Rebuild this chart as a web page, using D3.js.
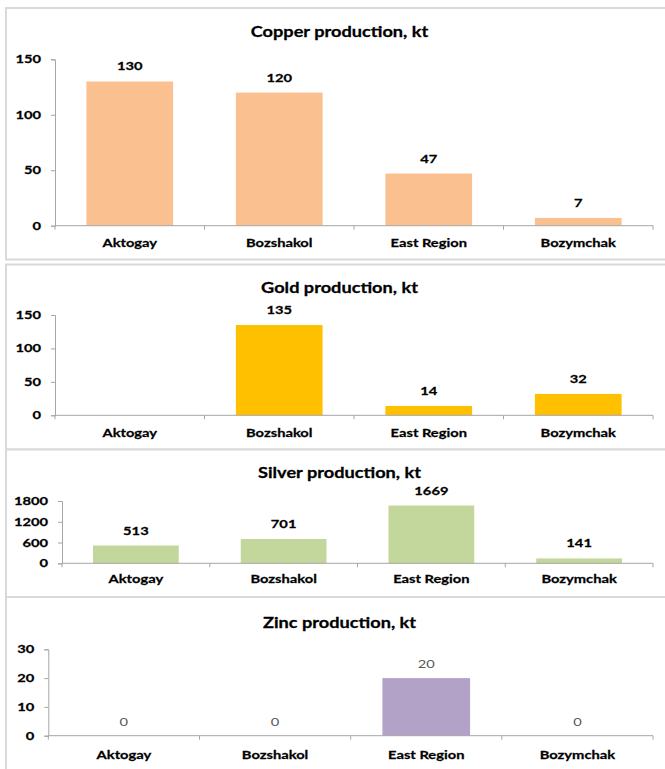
<!DOCTYPE html>
<html>
<head>
<meta charset="utf-8">
<script src="https://cdn.jsdelivr.net/npm/d3@7"></script>
<style>
  html, body { margin: 0; padding: 0; background: #ffffff; }
  svg { display: block; }
</style>
</head>
<body>
<svg id="chart" width="665" height="769"></svg>
<script>
// ---- data ----
const categories = ["Aktogay", "Bozshakol", "East Region", "Bozymchak"];
const copperValues = [130, 120, 47, 7];
const goldValues = [null, 135, 14, 32];
const silverValues = [513, 701, 1669, 141];
const zincValues = [0, 0, 20, 0];
const copperTicks = [0, 50, 100, 150];
const goldTicks = [0, 50, 100, 150];
const silverTicks = [0, 600, 1200, 1800];
const zincTicks = [0, 10, 20, 30];
const titles = ["Copper production, kt", "Gold production, kt", "Silver production, kt", "Zinc production, kt"];

// ---- layout ----
const SX = 1.28;            // horizontal stretch of the reference text
const FONT = "Lato, 'Noto Sans', sans-serif";
const panels = [
  { title: titles[0], values: copperValues, ticks: copperTicks, color: "#FAC090",
    box: [8, 259.5], y0: 225.7, yTop: 59.3, axisX: 55, titleY: 36.5, catDy: 21, boldLabels: true },
  { title: titles[1], values: goldValues, ticks: goldTicks, color: "#FFC000",
    box: [264.5, 449.5], y0: 415.3, yTop: 315, axisX: 55, titleY: 292.7, catDy: 21.4, boldLabels: true },
  { title: titles[2], values: silverValues, ticks: silverTicks, color: "#C3D69B",
    box: [449.5, 597], y0: 563.3, yTop: 501, axisX: 62, titleY: 478.3, catDy: 19.4, boldLabels: true },
  { title: titles[3], values: zincValues, ticks: zincTicks, color: "#B3A2C7",
    box: [597, 780], y0: 735.7, yTop: 649.3, axisX: 48.3, titleY: 628.3, catDy: 23.6, boldLabels: false }
];
const RIGHT = 653;
const AXIS_COLOR = "#a6a6a6";

const svg = d3.select("#chart");

function stretchedText(g, x, y, str, opts) {
  const bold = (opts.weight || "bold") === "bold";
  const fill = opts.fill || "#000";
  return g.append("text")
    .attr("transform", `translate(${x},${y}) scale(${SX},1)`)
    .attr("text-anchor", opts.anchor || "middle")
    .attr("font-family", FONT)
    .attr("font-size", opts.size || 11.5)
    .attr("font-weight", opts.weight || "bold")
    .attr("fill", fill)
    .attr("stroke", bold ? fill : "none")
    .attr("stroke-width", bold ? 0.25 : 0)
    .text(str);
}

panels.forEach(p => {
  const g = svg.append("g");
  // panel border
  g.append("rect")
    .attr("x", 6).attr("y", p.box[0])
    .attr("width", 680).attr("height", p.box[1] - p.box[0])
    .attr("fill", "#fff").attr("stroke", "#d9d9d9").attr("stroke-width", 2);

  const yMax = p.ticks[p.ticks.length - 1];
  const y = d3.scaleLinear().domain([0, yMax]).range([p.y0, p.yTop]);
  const x = d3.scaleBand().domain(categories).range([p.axisX, RIGHT])
    .paddingInner(0.42).paddingOuter(0.21);

  // title
  stretchedText(g, 339.5, p.titleY, p.title, { size: 14.2 });

  // bars
  g.selectAll("rect.bar")
    .data(categories.map((c, i) => ({ c, v: p.values[i] })).filter(d => d.v !== null))
    .join("rect")
    .attr("class", "bar")
    .attr("x", d => x(d.c))
    .attr("width", x.bandwidth())
    .attr("y", d => y(d.v))
    .attr("height", d => p.y0 - y(d.v))
    .attr("fill", p.color);

  // y axis
  const yAxis = d3.axisLeft(y).tickValues(p.ticks).tickSize(4).tickFormat("");
  const ya = g.append("g").attr("transform", `translate(${p.axisX},0)`).call(yAxis);
  ya.select(".domain").attr("stroke", AXIS_COLOR);
  ya.selectAll(".tick line").attr("stroke", AXIS_COLOR);
  p.ticks.forEach(t => {
    stretchedText(g, p.axisX - 14, y(t) + 4, String(t), { anchor: "end" });
  });

  // x axis line and boundary ticks
  g.append("line")
    .attr("x1", p.axisX).attr("x2", RIGHT)
    .attr("y1", p.y0).attr("y2", p.y0)
    .attr("stroke", AXIS_COLOR);
  const step = x.step();
  const bounds = d3.range(categories.length + 1).map(i => p.axisX + i * step);
  g.selectAll("line.xt").data(bounds).join("line")
    .attr("class", "xt")
    .attr("x1", d => d).attr("x2", d => d)
    .attr("y1", p.y0).attr("y2", p.y0 + 4)
    .attr("stroke", AXIS_COLOR);

  // category labels
  categories.forEach(c => {
    stretchedText(g, x(c) + x.bandwidth() / 2, p.y0 + p.catDy, c, {});
  });

  // data labels
  categories.forEach((c, i) => {
    const v = p.values[i];
    if (v === null) return;
    stretchedText(g, x(c) + x.bandwidth() / 2, y(v) - (p.boldLabels ? 11 : 10), String(v),
      { weight: p.boldLabels ? "bold" : "normal", fill: p.boldLabels ? "#000" : "#595959" });
  });
});
</script>
</body>
</html>
